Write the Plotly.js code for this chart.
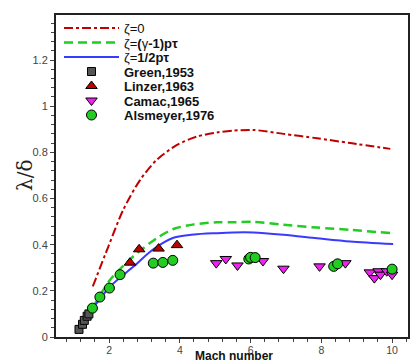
<!DOCTYPE html>
<html><head><meta charset="utf-8">
<script src="https://cdn.plot.ly/plotly-3.0.1.min.js"></script>
<style>html,body{margin:0;padding:0;background:#fff}#chart{width:411px;height:363px}</style>
</head><body><div id="chart"></div>
<script>
// Theory curves
const zeta0X = [1.54, 1.98, 2.40, 2.88, 3.35, 3.92, 4.48, 5.05, 5.51, 6.08, 6.93, 7.88, 8.82, 9.95];
const zeta0Y = [0.219, 0.392, 0.551, 0.681, 0.768, 0.832, 0.868, 0.886, 0.894, 0.897, 0.880, 0.861, 0.840, 0.815];
const zetaGX = [1.56, 2.03, 2.69, 3.35, 3.82, 4.4, 5.05, 5.51, 6.08, 6.93, 7.88, 8.82, 9.95];
const zetaGY = [0.132, 0.248, 0.35, 0.428, 0.468, 0.488, 0.497, 0.497, 0.499, 0.486, 0.474, 0.464, 0.450];
const zetaHX = [1.51, 2.03, 2.69, 3.25, 3.82, 4.4, 5.05, 5.51, 6.08, 6.93, 7.88, 8.82, 10.03];
const zetaHY = [0.118, 0.219, 0.305, 0.38, 0.43, 0.444, 0.45, 0.453, 0.453, 0.443, 0.428, 0.414, 0.403];
// Experiments
const greenX = [1.15, 1.25, 1.3, 1.38, 1.43];
const greenY = [0.033, 0.055, 0.072, 0.09, 0.1];
const linzerX = [2.59, 2.85, 3.40, 3.92];
const linzerY = [0.322, 0.38, 0.383, 0.398];
const camacX = [5.03, 5.30, 5.63, 6.35, 6.93, 7.95, 8.68, 9.37, 9.50, 9.62, 9.67, 9.85, 10.0];
const camacY = [0.32, 0.338, 0.31, 0.329, 0.296, 0.306, 0.32, 0.28, 0.255, 0.285, 0.27, 0.285, 0.27];
const alsX = [1.53, 1.74, 2.01, 2.31, 3.25, 3.52, 3.80, 5.95, 6.0, 6.13, 8.35, 8.46, 10.0];
const alsY = [0.125, 0.173, 0.212, 0.27, 0.32, 0.323, 0.332, 0.338, 0.345, 0.344, 0.306, 0.317, 0.294];

const mk = (sym, col, size) => ({symbol: sym, color: col, size: size, line: {color: '#000', width: 1}});
const traces = [
  {x: zeta0X, y: zeta0Y, mode: 'lines', name: 'ζ=0', line: {color: '#c00000', width: 2, dash: 'dashdot', shape: 'spline', smoothing: 0.8}},
  {x: zetaGX, y: zetaGY, mode: 'lines', name: 'ζ=<b>(</b>γ<b>-1)pτ</b>', line: {color: '#22cc22', width: 2.5, dash: '9px,5px', shape: 'spline', smoothing: 0.8}},
  {x: zetaHX, y: zetaHY, mode: 'lines', name: 'ζ=<b>1/2pτ</b>', line: {color: '#3a3aff', width: 2, shape: 'spline', smoothing: 0.8}},
  {x: greenX, y: greenY, mode: 'markers', name: '<b>Green,1953</b>', marker: mk('square', '#555555', 8)},
  {x: linzerX, y: linzerY, mode: 'markers', name: '<b>Linzer,1963</b>', marker: mk('triangle-up', '#c00000', 10)},
  {x: camacX, y: camacY, mode: 'markers', name: '<b>Camac,1965</b>', marker: mk('triangle-down', '#ee22ee', 10)},
  {x: alsX, y: alsY, mode: 'markers', name: '<b>Alsmeyer,1976</b>', marker: mk('circle', '#22cc22', 10)}
];
const axisBase = {showline: true, mirror: true, linecolor: '#222', linewidth: 2, showgrid: false, zeroline: false,
  ticks: 'outside', ticklen: 4, tickwidth: 1, tickcolor: '#444', tickfont: {family: 'Liberation Sans, Arial', size: 11, color: '#444'}};
const layout = {
  width: 411, height: 363, margin: {l: 56, r: 3, t: 15, b: 26}, paper_bgcolor: '#fff', plot_bgcolor: '#fff',
  font: {family: 'Liberation Sans, Arial', color: '#000'},
  xaxis: Object.assign({}, axisBase, {range: [0.5, 10.45], dtick: 2, tick0: 0, ticklabelstandoff: -2,
    tickfont: {family: 'Liberation Sans, Arial', size: 10.5, color: '#444'},
    minor: {dtick: 0.4, ticks: 'outside', ticklen: 3, tickcolor: '#444', showgrid: false}}),
  yaxis: Object.assign({}, axisBase, {range: [0, 1.395], dtick: 0.2, tick0: 0,
    minor: {dtick: 0.04, ticks: 'outside', ticklen: 3, tickcolor: '#444', showgrid: false}}),
  showlegend: true,
  legend: {x: 0.0, y: 1.0, xanchor: 'left', yanchor: 'top', bgcolor: 'rgba(0,0,0,0)', itemwidth: 55,
    font: {family: 'Liberation Sans, Arial', size: 13, color: '#111'}, tracegroupgap: 0},
  annotations: [
    {text: '<b>Mach number</b>', xref: 'paper', yref: 'paper', x: 0.506, y: -0.058, xanchor: 'center', yanchor: 'middle',
      showarrow: false, font: {family: 'Liberation Sans, Arial', size: 12, color: '#111'}},
    {text: 'λ/δ', xref: 'paper', yref: 'paper', x: -0.088, y: 0.5, xanchor: 'center', yanchor: 'middle', textangle: -90,
      showarrow: false, font: {family: 'DejaVu Serif, Liberation Serif', size: 20, color: '#222'}}
  ]
};
Plotly.newPlot('chart', traces, layout, {staticPlot: true}).then(function(gd){
  // compress legend row spacing to match the reference
  const items = gd.querySelectorAll('.legend .traces');
  items.forEach(function(g, i){ g.setAttribute('transform', 'translate(' + 3 + ',' + (13 + i * 14.5) + ')'); });
});
</script></body></html>
